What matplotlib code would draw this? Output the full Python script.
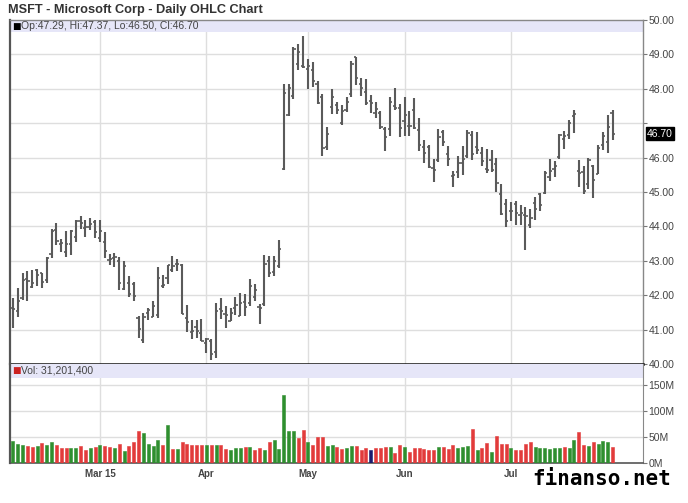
import numpy as np
import pandas as pd
import matplotlib.pyplot as plt

# trading days Feb 3 - Jul 31, 2015
holidays = ["2015-02-16", "2015-04-03", "2015-05-25", "2015-07-03"]
dates = [d for d in pd.bdate_range("2015-02-03", "2015-07-31")
         if d.strftime("%Y-%m-%d") not in holidays]

opens = [41.63, 41.54, 41.92, 42.47, 42.24, 42.74, 42.65, 42.45, 43.21, 43.89,
         43.50, 43.27, 43.50, 43.70, 44.15, 43.95, 43.99, 44.13,
         43.67, 43.56, 43.01, 43.07, 43.00, 42.19, 42.35, 42.32, 41.33, 40.70,
         41.47, 41.37, 41.43, 42.26, 42.50, 42.73, 42.90, 42.89, 41.34, 40.93,
         41.07, 40.91,
         40.60, 40.66, 40.34, 41.61, 41.46, 41.25, 41.63, 41.40, 41.80, 41.76,
         41.95, 41.67, 41.73, 43.00, 42.67, 42.85, 45.66, 47.23, 47.78, 48.71,
         48.67,
         48.58, 48.54, 48.15, 47.75, 46.30, 47.47, 47.54, 47.00, 47.38, 47.86,
         48.91, 48.13, 47.91, 47.64, 47.30, 47.30, 46.83, 46.82, 47.50, 47.43,
         47.06, 46.93, 47.37, 46.79, 46.31, 46.30, 45.70, 45.93, 46.74, 46.10,
         45.46, 45.57, 45.85, 46.05, 46.66, 46.32, 46.13, 45.67, 45.93, 45.81,
         44.93, 44.65,
         44.46, 44.66, 44.33, 44.34, 44.04, 44.67, 44.94, 44.98, 45.45, 45.68,
         46.01, 46.55, 46.65, 47.22, 45.60, 45.59, 45.23, 45.77, 45.53, 46.38,
         46.44, 47.29]
highs = [41.93, 42.21, 42.64, 42.69, 42.74, 42.77, 42.65, 43.11, 43.92, 44.10,
         43.64, 43.88, 43.89, 44.19, 44.30, 44.20, 44.23, 44.20,
         44.19, 43.83, 43.21, 43.24, 43.11, 43.00, 42.56, 42.37, 41.40, 41.47,
         41.64, 41.83, 42.83, 42.59, 42.88, 43.14, 43.05, 42.91, 41.71, 41.27,
         41.29, 41.30,
         40.76, 40.74, 41.78, 41.91, 41.69, 41.62, 41.95, 42.06, 42.03, 42.46,
         42.34, 41.74, 43.17, 43.15, 43.13, 43.61, 48.14, 48.13, 49.21, 49.30,
         49.54,
         48.88, 48.78, 48.23, 47.84, 46.89, 47.98, 47.61, 47.52, 47.75, 48.82,
         48.91, 48.31, 48.29, 47.83, 47.63, 47.35, 46.88, 47.77, 48.02, 47.57,
         47.77, 47.35, 47.74, 47.16, 46.52, 46.36, 45.97, 46.83, 46.80, 46.34,
         45.61, 46.06, 46.34, 46.81, 46.77, 46.74, 46.31, 46.25, 46.21, 45.98,
         45.24, 44.81,
         44.72, 44.75, 44.62, 44.55, 44.50, 44.86, 44.96, 45.62, 45.96, 45.89,
         46.69, 46.78, 47.10, 47.37, 45.94, 45.76, 46.00, 45.79, 46.37, 46.75,
         47.23, 47.37]
lows = [41.05, 41.36, 41.86, 41.84, 42.20, 42.26, 42.21, 42.36, 43.09, 43.45,
        43.25, 43.11, 43.18, 43.54, 43.92, 43.69, 43.89, 43.66,
        43.55, 43.09, 42.88, 42.82, 42.15, 42.14, 41.94, 41.84, 40.75, 40.61,
        41.28, 41.37, 41.33, 42.22, 42.32, 42.67, 42.71, 41.45, 40.93, 40.73,
        40.75, 40.66,
        40.31, 40.12, 40.18, 41.31, 41.04, 41.25, 41.41, 41.39, 41.39, 41.68,
        41.82, 41.16, 41.68, 42.53, 42.55, 42.80, 45.65, 47.22, 47.70, 48.55,
        48.60,
        48.00, 48.05, 47.55, 46.04, 46.21, 47.26, 47.26, 46.95, 47.32, 47.75,
        48.12, 47.79, 47.53, 47.29, 47.14, 46.82, 46.19, 46.62, 47.39, 46.59,
        46.62, 46.62, 46.82, 46.20, 45.84, 45.70, 45.29, 45.86, 46.33, 45.76,
        45.14, 45.42, 45.49, 45.99, 45.92, 46.11, 45.75, 45.55, 45.58, 45.00,
        44.34, 43.99,
        44.17, 44.04, 44.04, 43.32, 43.94, 44.19, 44.44, 44.95, 45.31, 45.43,
        45.97, 46.26, 46.54, 46.72, 45.14, 44.93, 45.10, 44.82, 45.52, 46.22,
        46.14, 46.50]
closes = [41.60, 41.84, 42.45, 42.41, 42.36, 42.60, 42.38, 43.09, 43.87, 43.58,
          43.53, 43.50, 43.86, 44.15, 44.09, 43.99, 44.06, 43.85,
          43.88, 43.28, 43.06, 43.11, 42.36, 42.85, 42.03, 41.98, 41.02, 41.38,
          41.56, 41.70, 42.50, 42.29, 42.88, 42.86, 42.90, 41.46, 41.21, 40.97,
          40.96, 40.66,
          40.72, 40.29, 41.55, 41.53, 41.42, 41.48, 41.72, 41.76, 41.65, 42.26,
          42.16, 41.62, 42.91, 42.64, 42.99, 43.34, 47.87, 48.03, 49.16, 49.06,
          48.64,
          48.66, 48.24, 47.60, 46.28, 46.70, 47.75, 47.37, 47.35, 47.63, 48.72,
          48.30, 48.01, 47.58, 47.58, 47.42, 46.90, 46.59, 47.61, 47.45, 46.86,
          47.23, 46.92, 46.85, 46.36, 46.14, 45.73, 45.65, 46.61, 46.44, 45.97,
          45.48, 45.83, 45.97, 46.72, 46.10, 46.23, 45.91, 45.64, 45.65, 45.26,
          44.37, 44.15,
          44.45, 44.40, 44.39, 44.30, 44.24, 44.52, 44.61, 45.54, 45.62, 45.76,
          46.66, 46.62, 47.00, 47.28, 45.54, 45.03, 45.94, 45.35, 46.29, 46.62,
          46.88, 46.70]
# volume in millions
volumes = [42, 37, 34, 33, 31, 32, 38, 34, 40, 34,
           28, 28, 29, 29, 32, 24, 29, 31,
           34, 32, 30, 28, 37, 23, 32, 40, 61, 58,
           37, 32, 45, 34, 72, 27, 27, 41, 37, 35,
           35, 35,
           35, 35, 35, 35, 27, 25, 28, 29, 30, 30,
           25, 28, 24, 40, 45, 26, 130, 62, 62, 48,
           64,
           40, 35, 50, 50, 33, 34, 30, 26, 28, 32,
           32, 25, 28, 24, 28, 29, 30, 30, 20, 35,
           30, 22, 28, 28, 26, 25, 25, 30, 30, 26,
           35, 28, 30, 33, 65, 25, 28, 38, 22, 52,
           36, 36,
           28, 25, 25, 37, 40, 30, 28, 28, 26, 28,
           28, 30, 29, 44, 60, 35, 33, 40, 36, 42,
           40, 31]

month_labels = ["Mar 15", "Apr", "May", "Jun", "Jul"]

x = np.arange(len(dates))
opens = np.array(opens)
closes = np.array(closes)
volumes = np.array(volumes) * 1e6

fig = plt.figure(figsize=(6.88, 5.03), dpi=100)
plt.rcParams["font.family"] = ["Liberation Sans", "DejaVu Sans"]
ax = fig.add_axes([10 / 688, 1 - 364 / 503, 633 / 688, 344 / 503])
axv = fig.add_axes([10 / 688, 1 - 463 / 503, 633 / 688, 99 / 503], sharex=ax)

grid_c = "#dedede"
bar_c = "#5a5a5a"

# month gridlines (first trading day of each month)
month_idx = []
for i in range(1, len(dates)):
    if dates[i].month != dates[i - 1].month:
        month_idx.append(i)

for a in (ax, axv):
    for m in month_idx:
        a.axvline(m, color=grid_c, lw=1, zorder=0)

# price panel
for p in range(41, 50):
    ax.axhline(p, color=grid_c, lw=1, zorder=0)
ax.axhspan(49.65, 50, color="#e6e6f8", zorder=1, lw=0)
ax.vlines(x, lows, highs, color=bar_c, lw=1.5, zorder=3)
ax.hlines(opens, x - 0.45, x, color=bar_c, lw=1.2, zorder=3)
ax.hlines(closes, x, x + 0.45, color=bar_c, lw=1.2, zorder=3)
ax.set_ylim(40, 50)
ax.set_xlim(-0.6, 130.3)
ax.yaxis.tick_right()
ticks = list(range(40, 51))
ax.set_yticks(ticks)
ax.set_yticklabels(["" if t == 47 else "%.2f" % t for t in ticks])
ax.tick_params(axis="y", length=3, width=0.8, color="#777777", labelsize=7.5,
               labelcolor="#444444", pad=1)
ax.tick_params(axis="x", length=0, labelbottom=False)
ax.annotate("%.2f" % closes[-1], xy=(1, closes[-1]), xycoords=("axes fraction", "data"),
            xytext=(3, 0), textcoords="offset points", va="center", ha="left",
            fontsize=7.5, color="white",
            bbox=dict(boxstyle="square,pad=0.1", fc="black", ec="black"))
ax.text(0.004, 49.82, "\u25a0", color="black", fontsize=6.5, va="center",
        transform=ax.get_yaxis_transform(), family="DejaVu Sans")
ax.text(0.018, 49.82, "Op:%.2f, Hi:%.2f, Lo:%.2f, Cl:%.2f" % (opens[-1], highs[-1], lows[-1], closes[-1]),
        color="#444444", fontsize=7.5, va="center", transform=ax.get_yaxis_transform())

for s in ("top", "right"):
    ax.spines[s].set_color("#888888")
    ax.spines[s].set_linewidth(1)
ax.spines["left"].set_color("#555555")
ax.spines["left"].set_linewidth(1.6)
ax.spines["bottom"].set_color("#111111")
ax.spines["bottom"].set_linewidth(1.8)

# volume panel
for v in (50e6, 100e6, 150e6):
    axv.axhline(v, color=grid_c, lw=1, zorder=0)
axv.axhspan(163e6, 190e6, color="#e6e6f8", zorder=1, lw=0)
colors = []
for i in range(len(closes)):
    if i == 0 or closes[i] > closes[i - 1]:
        colors.append("#2f8f2f")
    elif closes[i] < closes[i - 1]:
        colors.append("#e23b3b")
    else:
        colors.append("#1a1a6e")
axv.bar(x, volumes, width=0.62, color=colors, edgecolor=colors, lw=0.4, zorder=3)
axv.set_ylim(0, 190e6)
axv.yaxis.tick_right()
axv.set_yticks([0, 50e6, 100e6, 150e6])
axv.set_yticklabels(["0M", "50M", "100M", "150M"])
axv.tick_params(axis="y", length=3, width=0.8, color="#777777", labelsize=7.5,
                labelcolor="#444444", pad=1)
axv.set_xticks(month_idx)
axv.set_xticklabels(month_labels, fontsize=7, fontweight="bold", color="#444444")
axv.tick_params(axis="x", length=0, pad=4)
axv.text(0.004, 177e6, "\u25a0", color="#cc2222", fontsize=6.5, va="center",
         transform=axv.get_yaxis_transform(), family="DejaVu Sans")
axv.text(0.018, 177e6, "Vol: 31,201,400", color="#444444", fontsize=7.5, va="center",
         transform=axv.get_yaxis_transform())
axv.spines["top"].set_visible(False)
axv.spines["right"].set_color("#888888")
axv.spines["left"].set_color("#555555")
axv.spines["left"].set_linewidth(1.6)
axv.spines["bottom"].set_color("#555555")
axv.spines["bottom"].set_linewidth(1.2)

fig.text(8 / 688, 1 - 10 / 503, "MSFT - Microsoft Corp - Daily OHLC Chart",
         fontsize=9.2, fontweight="bold", color="#333333", va="center", ha="left")
fig.text(532 / 688, 1 - 479 / 503, "finanso.net", family="DejaVu Sans Mono",
         fontsize=15, fontweight="bold", color="black", va="center", ha="left")

fig.savefig("out.png", dpi=100)
